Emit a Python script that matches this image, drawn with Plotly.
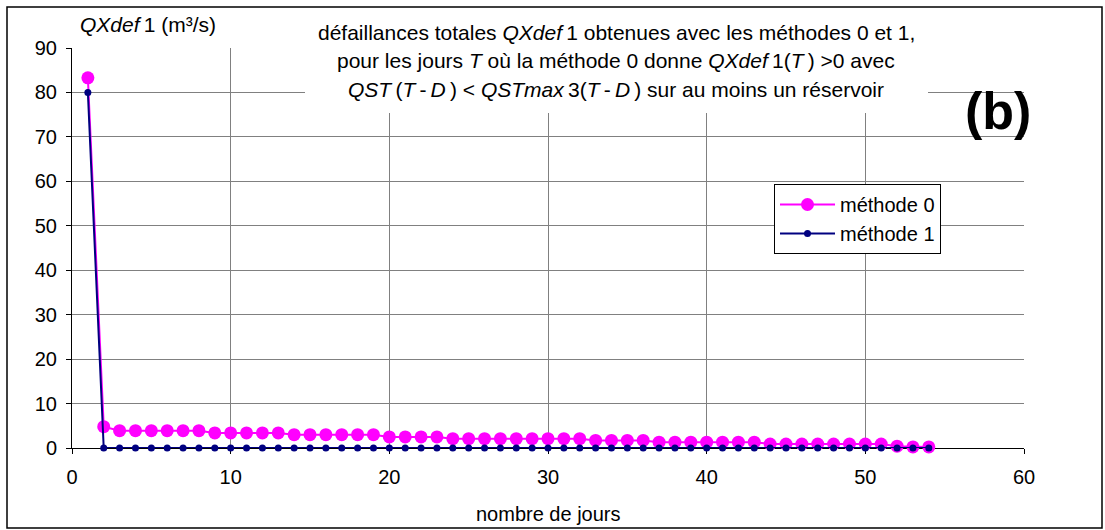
import plotly.graph_objects as go

# Day index (nombre de jours)
days = list(range(1, 55))

# Total shortfall QXdef1 (m3/s) per method
methode_0 = [83.3, 4.8,
             3.9, 3.9, 3.9, 3.9, 3.9, 3.9,
             3.4, 3.4, 3.4, 3.4, 3.4,
             3.0, 3.0, 3.0, 3.0, 3.0, 3.0,
             2.5, 2.5, 2.5, 2.5,
             2.1, 2.1, 2.1, 2.1, 2.1, 2.1, 2.1, 2.1, 2.1,
             1.7, 1.7, 1.7, 1.7,
             1.3, 1.3, 1.3, 1.3, 1.3, 1.3, 1.3,
             0.9, 0.9, 0.9, 0.9, 0.9, 0.9, 0.9, 0.9,
             0.4, 0.25, 0.25]
methode_1 = [80.0] + [0.0] * 53

x_ticks = [0, 10, 20, 30, 40, 50, 60]
y_ticks = [0, 10, 20, 30, 40, 50, 60, 70, 80, 90]

FONT = "Liberation Sans, Arial, sans-serif"
W, H = 1105, 530
L, R, T, B = 72, 81, 48, 82
PW, PH = W - L - R, H - T - B


def px_x(p):
    return (p - L) / PW


def px_y(p):
    return (H - B - p) / PH


fig = go.Figure()
fig.add_trace(go.Scatter(
    x=days, y=methode_0, name="méthode 0", mode="lines+markers",
    line=dict(color="#FF00FF", width=2),
    marker=dict(color="#FF00FF", size=13),
    cliponaxis=False,
))
fig.add_trace(go.Scatter(
    x=days, y=methode_1, name="méthode 1", mode="lines+markers",
    line=dict(color="#000080", width=2),
    marker=dict(color="#000080", size=7),
    cliponaxis=False,
))

fig.update_xaxes(
    range=[0, 60], tickvals=x_ticks, ticktext=[str(v) for v in x_ticks],
    showgrid=True, gridcolor="#808080", gridwidth=1,
    showline=True, linecolor="black", linewidth=1,
    ticks="outside", ticklen=5, tickcolor="black",
    zeroline=False, ticklabelstandoff=6, automargin=False,
    layer="below traces",
    tickfont=dict(family=FONT, size=20, color="black"),
)
fig.update_yaxes(
    range=[0, 90], tickvals=y_ticks, ticktext=[str(v) for v in y_ticks],
    showgrid=True, gridcolor="#808080", gridwidth=1,
    showline=True, linecolor="black", linewidth=1,
    ticks="outside", ticklen=5, tickcolor="black",
    zeroline=False, ticklabelstandoff=5, automargin=False,
    layer="below traces",
    tickfont=dict(family=FONT, size=20, color="black"),
)

shapes = [
    # outer frame of the chart
    dict(type="rect", xref="paper", yref="paper", layer="above",
         x0=px_x(7), x1=px_x(1102), y0=px_y(528), y1=px_y(7),
         line=dict(color="black", width=1.5), fillcolor="rgba(0,0,0,0)"),
    # white panel behind the title text
    dict(type="rect", xref="paper", yref="paper", layer="above",
         x0=px_x(305), x1=px_x(928), y0=px_y(113), y1=px_y(9),
         line=dict(width=0), fillcolor="white"),
]

TS = "\u2009"  # thin space between italic symbols and upright text
title_lines = [
    f"défaillances totales <i>QXdef</i>{TS}1 obtenues avec les méthodes 0 et 1,",
    f"pour les jours <i>T</i> où la méthode 0 donne <i>QXdef</i>{TS}1(<i>T</i>{TS}) &gt;0 avec",
    f"<i>QST</i>{TS}(<i>T</i>{TS}-{TS}<i>D</i>{TS}) &lt; <i>QSTmax</i>{TS}3(<i>T</i>{TS}-{TS}<i>D</i>{TS}) sur au moins un réservoir",
]
title_y = [33, 61, 89]

annotations = []
for txt, yp in zip(title_lines, title_y):
    annotations.append(dict(
        text=txt, xref="paper", yref="paper", x=px_x(616), y=px_y(yp),
        xanchor="center", yanchor="middle", showarrow=False,
        font=dict(family=FONT, size=21, color="black"),
    ))
annotations.append(dict(
    text=f"<i>QXdef</i>{TS}1 (m³/s)", xref="paper", yref="paper",
    x=px_x(78), y=px_y(25), xanchor="left", yanchor="middle", showarrow=False,
    font=dict(family=FONT, size=21, color="black"),
))
annotations.append(dict(
    text="nombre de jours", xref="paper", yref="paper",
    x=0.5, y=px_y(514), xanchor="center", yanchor="middle", showarrow=False,
    font=dict(family=FONT, size=20, color="black"),
))
annotations.append(dict(
    text="<b>(b)</b>", xref="paper", yref="paper",
    x=px_x(1033), y=px_y(111), xanchor="right", yanchor="middle", showarrow=False,
    font=dict(family=FONT, size=52, color="black"),
))

fig.update_layout(
    width=W, height=H,
    margin=dict(l=L, r=R, t=T, b=B),
    paper_bgcolor="white", plot_bgcolor="white",
    showlegend=True,
    legend=dict(
        x=px_x(774), y=px_y(184), xanchor="left", yanchor="top",
        bgcolor="white", bordercolor="black", borderwidth=1,
        font=dict(family=FONT, size=20, color="black"),
        itemwidth=55, tracegroupgap=10,
    ),
    shapes=shapes,
    annotations=annotations,
)

fig.write_html("out.html")
